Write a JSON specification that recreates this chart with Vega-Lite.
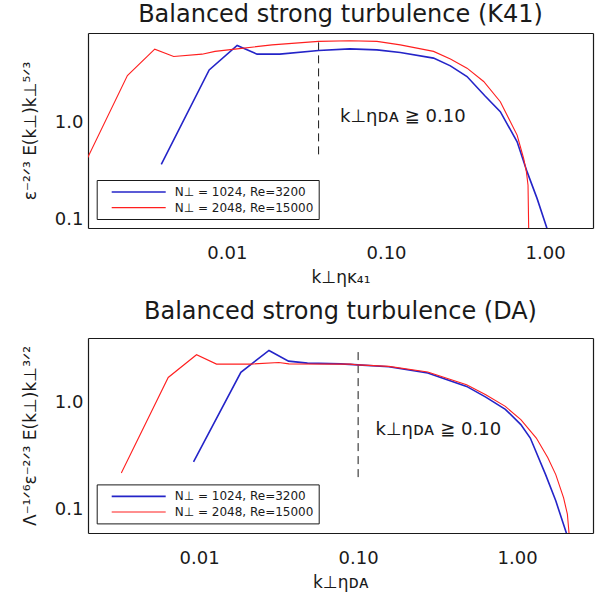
{
  "$schema": "https://vega.github.io/schema/vega-lite/v6.json",
  "background": "white",
  "padding": {"left": 21, "top": 2, "right": 5, "bottom": 5},
  "spacing": 15,
  "config": {
    "view": {"stroke": null},
    "font": "DejaVu Sans",
    "title": {"fontSize": 24, "fontWeight": "normal", "font": "DejaVu Sans", "color": "#1a1a1a", "anchor": "middle", "offset": 5},
    "axis": {"grid": false, "domainColor": "#1a1a1a", "domainWidth": 1.2, "tickColor": "#1a1a1a", "tickWidth": 1, "tickSize": 0, "labelFont": "DejaVu Sans", "labelFontSize": 18, "labelColor": "#1a1a1a", "titleFont": "DejaVu Sans", "titleFontWeight": "normal", "titleColor": "#1a1a1a", "labelOverlap": false, "labelBound": false}
  },
  "resolve": {"scale": {"color": "independent", "strokeWidth": "independent"}, "legend": {"color": "independent"}},
  "vconcat": [
    {
      "title": "Balanced strong turbulence (K41)",
      "width": 505,
      "height": 195,
      "layer": [
        {
          "layer": [
            {
              "data": {"values": [{"x": 0.0377, "y0": 0.5, "y1": 5.98}]},
              "mark": {"type": "rule", "strokeDash": [8, 5], "color": "#1a1a1a", "strokeWidth": 1},
              "encoding": {
                "x": {"field": "x", "type": "quantitative", "scale": {"type": "log", "domain": [0.00134, 2], "nice": false}},
                "y": {"field": "y0", "type": "quantitative", "scale": {"type": "log", "domain": [0.1, 7.1], "nice": false}},
                "y2": {"field": "y1"}
              }
            },
            {
              "data": {"values": [
                {"s": "N⊥ = 1024, Re=3200", "x": 0.00387, "y": 0.401},
                {"s": "N⊥ = 1024, Re=3200", "x": 0.00774, "y": 3.17},
                {"s": "N⊥ = 1024, Re=3200", "x": 0.0116, "y": 5.41},
                {"s": "N⊥ = 1024, Re=3200", "x": 0.0155, "y": 4.47},
                {"s": "N⊥ = 1024, Re=3200", "x": 0.0215, "y": 4.47},
                {"s": "N⊥ = 1024, Re=3200", "x": 0.0377, "y": 4.85},
                {"s": "N⊥ = 1024, Re=3200", "x": 0.0592, "y": 5.02},
                {"s": "N⊥ = 1024, Re=3200", "x": 0.0877, "y": 4.91},
                {"s": "N⊥ = 1024, Re=3200", "x": 0.123, "y": 4.64},
                {"s": "N⊥ = 1024, Re=3200", "x": 0.199, "y": 4.1},
                {"s": "N⊥ = 1024, Re=3200", "x": 0.254, "y": 3.46},
                {"s": "N⊥ = 1024, Re=3200", "x": 0.323, "y": 2.74},
                {"s": "N⊥ = 1024, Re=3200", "x": 0.418, "y": 1.8},
                {"s": "N⊥ = 1024, Re=3200", "x": 0.523, "y": 1.27},
                {"s": "N⊥ = 1024, Re=3200", "x": 0.667, "y": 0.659},
                {"s": "N⊥ = 1024, Re=3200", "x": 0.771, "y": 0.341},
                {"s": "N⊥ = 1024, Re=3200", "x": 0.891, "y": 0.19},
                {"s": "N⊥ = 1024, Re=3200", "x": 1.03, "y": 0.098},
                {"s": "N⊥ = 1024, Re=3200", "x": 1.06, "y": 0.085},
                {"s": "N⊥ = 2048, Re=15000", "x": 0.00117, "y": 0.31},
                {"s": "N⊥ = 2048, Re=15000", "x": 0.00237, "y": 2.8},
                {"s": "N⊥ = 2048, Re=15000", "x": 0.00352, "y": 4.99},
                {"s": "N⊥ = 2048, Re=15000", "x": 0.00463, "y": 4.25},
                {"s": "N⊥ = 2048, Re=15000", "x": 0.00698, "y": 4.47},
                {"s": "N⊥ = 2048, Re=15000", "x": 0.00842, "y": 4.75},
                {"s": "N⊥ = 2048, Re=15000", "x": 0.0116, "y": 5.02},
                {"s": "N⊥ = 2048, Re=15000", "x": 0.0192, "y": 5.48},
                {"s": "N⊥ = 2048, Re=15000", "x": 0.0377, "y": 5.91},
                {"s": "N⊥ = 2048, Re=15000", "x": 0.0592, "y": 5.99},
                {"s": "N⊥ = 2048, Re=15000", "x": 0.0877, "y": 5.91},
                {"s": "N⊥ = 2048, Re=15000", "x": 0.123, "y": 5.48},
                {"s": "N⊥ = 2048, Re=15000", "x": 0.199, "y": 4.75},
                {"s": "N⊥ = 2048, Re=15000", "x": 0.254, "y": 4.03},
                {"s": "N⊥ = 2048, Re=15000", "x": 0.323, "y": 3.29},
                {"s": "N⊥ = 2048, Re=15000", "x": 0.411, "y": 2.46},
                {"s": "N⊥ = 2048, Re=15000", "x": 0.523, "y": 1.58},
                {"s": "N⊥ = 2048, Re=15000", "x": 0.667, "y": 0.762},
                {"s": "N⊥ = 2048, Re=15000", "x": 0.733, "y": 0.457},
                {"s": "N⊥ = 2048, Re=15000", "x": 0.763, "y": 0.341},
                {"s": "N⊥ = 2048, Re=15000", "x": 0.781, "y": 0.255},
                {"s": "N⊥ = 2048, Re=15000", "x": 0.794, "y": 0.05}
              ]},
              "mark": {"type": "line", "clip": true},
              "encoding": {
                "x": {"field": "x", "type": "quantitative", "scale": {"type": "log", "domain": [0.00134, 2], "nice": false},
                  "axis": {"orient": "bottom", "values": [0.002,0.003,0.004,0.005,0.006,0.007,0.008,0.009,0.01,0.02,0.03,0.04,0.05,0.06,0.07,0.08,0.09,0.1,0.2,0.3,0.4,0.5,0.6,0.7,0.8,0.9,1,2],
                    "labelExpr": "abs(log(datum.value)/LN10 - round(log(datum.value)/LN10)) < 0.01 ? format(datum.value, '.2f') : ''",
                    "labelPadding": 16, "title": "k⊥ηᴋ₄₁", "titleFontSize": 17, "titlePadding": 7,
                    "encode": {"ticks": {"update": {"y2": {"signal": "abs(log(datum.value)/LN10 - round(log(datum.value)/LN10)) < 0.01 ? -4 : -2"}}}}}},
                "y": {"field": "y", "type": "quantitative", "scale": {"type": "log", "domain": [0.1, 7.1], "nice": false},
                  "axis": {"orient": "left", "values": [0.1,0.2,0.3,0.4,0.5,0.6,0.7,0.8,0.9,1,2,3,4,5,6,7],
                    "labelExpr": "abs(log(datum.value)/LN10 - round(log(datum.value)/LN10)) < 0.01 ? format(datum.value, '.1f') : ''",
                    "labelPadding": 5, "labelFlush": true, "title": "ε⁻²ᐟ³ E(k⊥)k⊥⁵ᐟ³", "titleFontSize": 17, "titlePadding": 15,
                    "encode": {"ticks": {"update": {"x2": {"signal": "abs(log(datum.value)/LN10 - round(log(datum.value)/LN10)) < 0.01 ? 10 : 5"}}}}}},
                "color": {"field": "s", "type": "nominal", "scale": {"domain": ["N⊥ = 1024, Re=3200", "N⊥ = 2048, Re=15000"], "range": ["#2424c8", "#ff1f1f"]},
                  "legend": {"orient": "none", "legendX": 8.7, "legendY": 147, "title": null, "strokeColor": "#1a1a1a", "fillColor": "white", "padding": 5,
                    "symbolType": "M-4.5,0H4.5", "symbolSize": 144, "symbolStrokeWidth": 1.2, "symbolOffset": 30, "labelOffset": 29,
                    "labelFontSize": 12, "labelFont": "DejaVu Sans", "labelColor": "#1a1a1a", "rowPadding": 2.6}},
                "strokeWidth": {"field": "s", "type": "ordinal", "scale": {"domain": ["N⊥ = 1024, Re=3200", "N⊥ = 2048, Re=15000"], "range": [1.6, 1.1]}, "legend": null}
              }
            },
            {
              "data": {"values": [{"x": 0.0514, "y": 1.14, "t": "k⊥ηᴅᴀ ≧ 0.10"}]},
              "mark": {"type": "text", "align": "left", "baseline": "middle", "fontSize": 18, "font": "DejaVu Sans", "color": "#1a1a1a"},
              "encoding": {
                "x": {"field": "x", "type": "quantitative", "scale": {"type": "log", "domain": [0.00134, 2], "nice": false}},
                "y": {"field": "y", "type": "quantitative", "scale": {"type": "log", "domain": [0.1, 7.1], "nice": false}},
                "text": {"field": "t"}
              }
            }
          ]
        },
        {
          "data": {"values": [{"x": 0.01, "y": 1}]},
          "mark": {"type": "point", "opacity": 0},
          "encoding": {
            "x": {"field": "x", "type": "quantitative", "scale": {"type": "log", "domain": [0.00134, 2], "nice": false},
              "axis": {"orient": "top", "values": [0.002,0.003,0.004,0.005,0.006,0.007,0.008,0.009,0.01,0.02,0.03,0.04,0.05,0.06,0.07,0.08,0.09,0.1,0.2,0.3,0.4,0.5,0.6,0.7,0.8,0.9,1,2],
                "labels": false, "title": null,
                "encode": {"ticks": {"update": {"y2": {"signal": "abs(log(datum.value)/LN10 - round(log(datum.value)/LN10)) < 0.01 ? 4 : 2"}}}}}},
            "y": {"field": "y", "type": "quantitative", "scale": {"type": "log", "domain": [0.1, 7.1], "nice": false},
              "axis": {"orient": "right", "values": [0.1,0.2,0.3,0.4,0.5,0.6,0.7,0.8,0.9,1,2,3,4,5,6,7],
                "labels": false, "title": null,
                "encode": {"ticks": {"update": {"x2": {"signal": "abs(log(datum.value)/LN10 - round(log(datum.value)/LN10)) < 0.01 ? -10 : -5"}}}}}}
          }
        }
      ],
      "resolve": {"scale": {"x": "independent", "y": "independent"}}
    },
    {
      "title": "Balanced strong turbulence (DA)",
      "width": 505,
      "height": 195,
      "layer": [
        {
          "layer": [
            {
              "data": {"values": [{"x": 0.1, "y0": 0.2, "y1": 3.03}]},
              "mark": {"type": "rule", "strokeDash": [8, 5], "color": "#1a1a1a", "strokeWidth": 1},
              "encoding": {
                "x": {"field": "x", "type": "quantitative", "scale": {"type": "log", "domain": [0.002, 3], "nice": false}},
                "y": {"field": "y0", "type": "quantitative", "scale": {"type": "log", "domain": [0.06, 4], "nice": false}},
                "y2": {"field": "y1"}
              }
            },
            {
              "data": {"values": [
                {"s": "N⊥ = 1024, Re=3200", "x": 0.00922, "y": 0.277},
                {"s": "N⊥ = 1024, Re=3200", "x": 0.0183, "y": 1.91},
                {"s": "N⊥ = 1024, Re=3200", "x": 0.0275, "y": 3.06},
                {"s": "N⊥ = 1024, Re=3200", "x": 0.0365, "y": 2.43},
                {"s": "N⊥ = 1024, Re=3200", "x": 0.048, "y": 2.33},
                {"s": "N⊥ = 1024, Re=3200", "x": 0.0777, "y": 2.29},
                {"s": "N⊥ = 1024, Re=3200", "x": 0.0998, "y": 2.24},
                {"s": "N⊥ = 1024, Re=3200", "x": 0.156, "y": 2.15},
                {"s": "N⊥ = 1024, Re=3200", "x": 0.274, "y": 1.88},
                {"s": "N⊥ = 1024, Re=3200", "x": 0.481, "y": 1.41},
                {"s": "N⊥ = 1024, Re=3200", "x": 0.635, "y": 1.12},
                {"s": "N⊥ = 1024, Re=3200", "x": 0.843, "y": 0.86},
                {"s": "N⊥ = 1024, Re=3200", "x": 1.055, "y": 0.62},
                {"s": "N⊥ = 1024, Re=3200", "x": 1.21, "y": 0.464},
                {"s": "N⊥ = 1024, Re=3200", "x": 1.51, "y": 0.211},
                {"s": "N⊥ = 1024, Re=3200", "x": 1.75, "y": 0.12},
                {"s": "N⊥ = 1024, Re=3200", "x": 2.04, "y": 0.06},
                {"s": "N⊥ = 1024, Re=3200", "x": 2.1, "y": 0.052},
                {"s": "N⊥ = 2048, Re=15000", "x": 0.00324, "y": 0.218},
                {"s": "N⊥ = 2048, Re=15000", "x": 0.00639, "y": 1.71},
                {"s": "N⊥ = 2048, Re=15000", "x": 0.00963, "y": 2.79},
                {"s": "N⊥ = 2048, Re=15000", "x": 0.01286, "y": 2.28},
                {"s": "N⊥ = 2048, Re=15000", "x": 0.0211, "y": 2.28},
                {"s": "N⊥ = 2048, Re=15000", "x": 0.0317, "y": 2.36},
                {"s": "N⊥ = 2048, Re=15000", "x": 0.0367, "y": 2.29},
                {"s": "N⊥ = 2048, Re=15000", "x": 0.0897, "y": 2.28},
                {"s": "N⊥ = 2048, Re=15000", "x": 0.0998, "y": 2.24},
                {"s": "N⊥ = 2048, Re=15000", "x": 0.156, "y": 2.17},
                {"s": "N⊥ = 2048, Re=15000", "x": 0.274, "y": 1.92},
                {"s": "N⊥ = 2048, Re=15000", "x": 0.481, "y": 1.46},
                {"s": "N⊥ = 2048, Re=15000", "x": 0.635, "y": 1.18},
                {"s": "N⊥ = 2048, Re=15000", "x": 0.843, "y": 0.917},
                {"s": "N⊥ = 2048, Re=15000", "x": 1.055, "y": 0.689},
                {"s": "N⊥ = 2048, Re=15000", "x": 1.32, "y": 0.464},
                {"s": "N⊥ = 2048, Re=15000", "x": 1.56, "y": 0.303},
                {"s": "N⊥ = 2048, Re=15000", "x": 1.75, "y": 0.211},
                {"s": "N⊥ = 2048, Re=15000", "x": 1.96, "y": 0.128},
                {"s": "N⊥ = 2048, Re=15000", "x": 2.07, "y": 0.09},
                {"s": "N⊥ = 2048, Re=15000", "x": 2.12, "y": 0.06},
                {"s": "N⊥ = 2048, Re=15000", "x": 2.15, "y": 0.04}
              ]},
              "mark": {"type": "line", "clip": true},
              "encoding": {
                "x": {"field": "x", "type": "quantitative", "scale": {"type": "log", "domain": [0.002, 3], "nice": false},
                  "axis": {"orient": "bottom", "values": [0.002,0.003,0.004,0.005,0.006,0.007,0.008,0.009,0.01,0.02,0.03,0.04,0.05,0.06,0.07,0.08,0.09,0.1,0.2,0.3,0.4,0.5,0.6,0.7,0.8,0.9,1,2,3],
                    "labelExpr": "abs(log(datum.value)/LN10 - round(log(datum.value)/LN10)) < 0.01 ? format(datum.value, '.2f') : ''",
                    "labelPadding": 16, "title": "k⊥ηᴅᴀ", "titleFontSize": 17, "titlePadding": 7,
                    "encode": {"ticks": {"update": {"y2": {"signal": "abs(log(datum.value)/LN10 - round(log(datum.value)/LN10)) < 0.01 ? -4 : -2"}}}}}},
                "y": {"field": "y", "type": "quantitative", "scale": {"type": "log", "domain": [0.06, 4], "nice": false},
                  "axis": {"orient": "left", "values": [0.06,0.07,0.08,0.09,0.1,0.2,0.3,0.4,0.5,0.6,0.7,0.8,0.9,1,2,3,4],
                    "labelExpr": "abs(log(datum.value)/LN10 - round(log(datum.value)/LN10)) < 0.01 ? format(datum.value, '.1f') : ''",
                    "labelPadding": 5, "title": "Λ⁻¹ᐟ⁶ε⁻²ᐟ³ E(k⊥)k⊥³ᐟ²", "titleFontSize": 17, "titlePadding": 15,
                    "encode": {"ticks": {"update": {"x2": {"signal": "abs(log(datum.value)/LN10 - round(log(datum.value)/LN10)) < 0.01 ? 10 : 5"}}}}}},
                "color": {"field": "s", "type": "nominal", "scale": {"domain": ["N⊥ = 1024, Re=3200", "N⊥ = 2048, Re=15000"], "range": ["#2424c8", "#ff1f1f"]},
                  "legend": {"orient": "none", "legendX": 8.7, "legendY": 146.4, "title": null, "strokeColor": "#1a1a1a", "fillColor": "white", "padding": 5,
                    "symbolType": "M-4.5,0H4.5", "symbolSize": 144, "symbolStrokeWidth": 1.2, "symbolOffset": 30, "labelOffset": 29,
                    "labelFontSize": 12, "labelFont": "DejaVu Sans", "labelColor": "#1a1a1a", "rowPadding": 2.6}},
                "strokeWidth": {"field": "s", "type": "ordinal", "scale": {"domain": ["N⊥ = 1024, Re=3200", "N⊥ = 2048, Re=15000"], "range": [1.6, 1.1]}, "legend": null}
              }
            },
            {
              "data": {"values": [{"x": 0.1285, "y": 0.556, "t": "k⊥ηᴅᴀ ≧ 0.10"}]},
              "mark": {"type": "text", "align": "left", "baseline": "middle", "fontSize": 18, "font": "DejaVu Sans", "color": "#1a1a1a"},
              "encoding": {
                "x": {"field": "x", "type": "quantitative", "scale": {"type": "log", "domain": [0.002, 3], "nice": false}},
                "y": {"field": "y", "type": "quantitative", "scale": {"type": "log", "domain": [0.06, 4], "nice": false}},
                "text": {"field": "t"}
              }
            }
          ]
        },
        {
          "data": {"values": [{"x": 0.01, "y": 1}]},
          "mark": {"type": "point", "opacity": 0},
          "encoding": {
            "x": {"field": "x", "type": "quantitative", "scale": {"type": "log", "domain": [0.002, 3], "nice": false},
              "axis": {"orient": "top", "values": [0.002,0.003,0.004,0.005,0.006,0.007,0.008,0.009,0.01,0.02,0.03,0.04,0.05,0.06,0.07,0.08,0.09,0.1,0.2,0.3,0.4,0.5,0.6,0.7,0.8,0.9,1,2,3],
                "labels": false, "title": null,
                "encode": {"ticks": {"update": {"y2": {"signal": "abs(log(datum.value)/LN10 - round(log(datum.value)/LN10)) < 0.01 ? 4 : 2"}}}}}},
            "y": {"field": "y", "type": "quantitative", "scale": {"type": "log", "domain": [0.06, 4], "nice": false},
              "axis": {"orient": "right", "values": [0.06,0.07,0.08,0.09,0.1,0.2,0.3,0.4,0.5,0.6,0.7,0.8,0.9,1,2,3,4],
                "labels": false, "title": null,
                "encode": {"ticks": {"update": {"x2": {"signal": "abs(log(datum.value)/LN10 - round(log(datum.value)/LN10)) < 0.01 ? -10 : -5"}}}}}}
          }
        }
      ],
      "resolve": {"scale": {"x": "independent", "y": "independent"}}
    }
  ]
}
